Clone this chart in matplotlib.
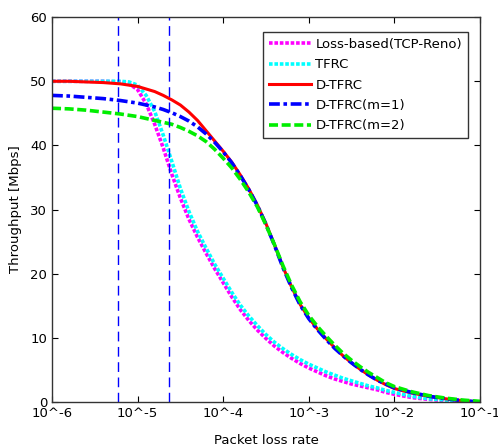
import numpy as np
import matplotlib
matplotlib.use('Agg')
from matplotlib import pyplot as plt

# packet loss rate, as log10 exponents
log_p = [-6.0, -5.8, -5.6, -5.4, -5.2, -5.1, -5.0, -4.9, -4.8, -4.7, -4.6,
         -4.5, -4.4, -4.3, -4.2, -4.1, -4.0, -3.9, -3.8, -3.7, -3.6,
         -3.5, -3.4, -3.3, -3.2, -3.1, -3.0, -2.9, -2.8, -2.7, -2.6,
         -2.5, -2.4, -2.3, -2.2, -2.1, -2.0, -1.8, -1.6, -1.4, -1.2, -1.0]

loss_based = [50.0, 50.0, 50.0, 50.0, 49.9, 49.6, 48.7, 46.5, 43.3, 39.6, 35.5,
              31.8, 28.5, 25.7, 23.2, 20.8, 18.6, 16.4, 14.4, 12.7, 11.2,
              9.9, 8.7, 7.7, 6.8, 6.0, 5.3, 4.7, 4.1, 3.6, 3.2,
              2.8, 2.5, 2.2, 1.9, 1.5, 1.2, 0.7, 0.4, 0.2, 0.1, 0.0]
tfrc = [50.0, 50.0, 50.0, 50.0, 50.0, 49.9, 49.4, 47.8, 45.3, 41.6, 37.5,
        33.3, 29.7, 26.6, 24.0, 21.5, 19.3, 17.1, 15.1, 13.4, 11.9,
        10.5, 9.3, 8.3, 7.4, 6.6, 5.9, 5.3, 4.7, 4.2, 3.7,
        3.3, 2.9, 2.5, 2.2, 1.8, 1.5, 0.9, 0.5, 0.3, 0.1, 0.0]
d_tfrc = [50.0, 50.0, 49.9, 49.8, 49.6, 49.4, 49.2, 48.8, 48.4, 47.8, 47.1,
          46.3, 45.2, 43.9, 42.3, 40.7, 39.1, 37.4, 35.4, 33.2, 30.7,
          27.8, 24.5, 21.0, 17.9, 15.2, 13.1, 11.4, 9.9, 8.5, 7.2,
          6.1, 5.1, 4.2, 3.4, 2.7, 2.1, 1.4, 0.9, 0.5, 0.2, 0.0]
d_tfrc_m1 = [47.8, 47.7, 47.5, 47.3, 47.0, 46.8, 46.6, 46.3, 46.0, 45.6, 45.1,
             44.5, 43.8, 42.9, 41.8, 40.5, 39.0, 37.3, 35.3, 33.1, 30.6,
             27.7, 24.4, 20.9, 17.8, 15.1, 13.0, 11.3, 9.8, 8.4, 7.2,
             6.1, 5.1, 4.2, 3.4, 2.8, 2.2, 1.5, 0.9, 0.5, 0.2, 0.0]
d_tfrc_m2 = [45.8, 45.7, 45.5, 45.2, 44.9, 44.7, 44.5, 44.2, 43.9, 43.6, 43.3,
             42.8, 42.2, 41.5, 40.6, 39.4, 38.0, 36.5, 34.7, 32.7, 30.4,
             27.6, 24.5, 21.2, 18.2, 15.6, 13.5, 11.8, 10.3, 8.9, 7.6,
             6.5, 5.5, 4.6, 3.8, 3.0, 2.4, 1.6, 1.0, 0.6, 0.3, 0.1]

vlines = [5.9e-6, 2.33e-5]

xtick_pos = [1e-6, 1e-5, 1e-4, 1e-3, 1e-2, 1e-1]
xtick_lab = ['10^-6', '10^-5', '10^-4', '10^-3', '10^-2', '10^-1']

p = 10 ** np.array(log_p)

fig = plt.figure(figsize=(4.98, 4.48), dpi=100)
ax = fig.add_axes([0.1044, 0.1027, 0.8594, 0.859])

ax.plot(p, loss_based, color='magenta', lw=2.6, ls=(0, (1, 0.5)), label='Loss-based(TCP-Reno)')
ax.plot(p, tfrc, color='cyan', lw=2.6, ls=(0, (1, 0.5)), label='TFRC')
ax.plot(p, d_tfrc, color='red', lw=2.2, ls='-', label='D-TFRC')
ax.plot(p, d_tfrc_m1, color='blue', lw=2.6, ls=(0, (3, 1, 1, 1)), label='D-TFRC(m=1)')
ax.plot(p, d_tfrc_m2, color='#00ee00', lw=2.6, ls=(0, (2.5, 1)), label='D-TFRC(m=2)')

for v in vlines:
    ax.axvline(v, color='blue', lw=1.0, ls=(0, (7, 4)))

ax.set_xscale('log')
ax.set_xlim(1e-6, 1e-1)
ax.set_ylim(0, 60)
ax.set_xticks(xtick_pos)
ax.set_xticklabels(xtick_lab)
ax.minorticks_off()
ax.set_yticks([0, 10, 20, 30, 40, 50, 60])
ax.tick_params(direction='in', top=True, right=True, labelsize=9.5, length=4)
for s in ax.spines.values():
    s.set_linewidth(1.0)
    s.set_color('#333333')

ax.set_xlabel('Packet loss rate', fontsize=9.5, labelpad=10)
ax.set_ylabel('Throughput [Mbps]', fontsize=9.5, labelpad=6)

leg = ax.legend(loc='upper right', bbox_to_anchor=(0.972, 0.961), borderaxespad=0,
                fontsize=9.5, fancybox=False, handlelength=3.2, handletextpad=0.3,
                labelspacing=0.55, borderpad=0.45)
leg.get_frame().set_edgecolor('black')
leg.get_frame().set_linewidth(1.0)

fig.savefig('out.png', dpi=100)
